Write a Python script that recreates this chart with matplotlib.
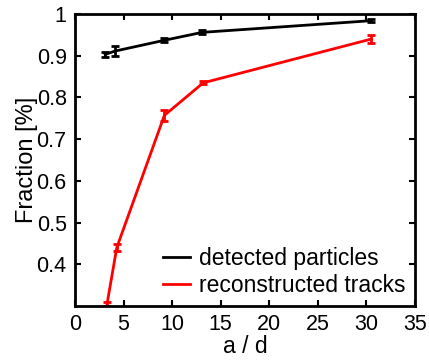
import matplotlib
matplotlib.use("Agg")
import matplotlib.pyplot as plt

plt.rcParams['font.family'] = ['Liberation Sans', 'DejaVu Sans']

x_det = [3.1, 4.1, 9.2, 13.1, 30.5]
y_det = [0.903, 0.911, 0.937, 0.956, 0.984]
e_det = [0.005, 0.012, 0.005, 0.005, 0.003]

x_rec = [3.3, 4.3, 9.2, 13.2, 30.5]
y_rec = [0.305, 0.44, 0.757, 0.835, 0.94]
e_rec = [0.005, 0.008, 0.013, 0.004, 0.009]

xticks = [0, 5, 10, 15, 20, 25, 30, 35]
yticks = [0.4, 0.5, 0.6, 0.7, 0.8, 0.9, 1.0]
yticklabels = ['0.4', '0.5', '0.6', '0.7', '0.8', '0.9', '1']

fig = plt.figure(figsize=(4.29, 3.62), dpi=100)
ax = fig.add_axes([75/429, 1-306/362, 340/429, 292/362])

ax.errorbar(x_det, y_det, yerr=e_det, color='black', lw=2, capsize=3, capthick=2,
            elinewidth=2, label='detected particles')
ax.errorbar(x_rec, y_rec, yerr=e_rec, color='#ff0000', lw=2, capsize=3, capthick=2,
            elinewidth=2, label='reconstructed tracks')

ax.set_xlim(0, 35)
ax.set_ylim(0.3, 1.0)
ax.set_xticks(xticks)
ax.set_yticks(yticks)
ax.set_yticklabels(yticklabels)
ax.tick_params(direction='in', top=True, right=True, labelsize=15.5, width=1.5, length=4, pad=6)
for s in ax.spines.values():
    s.set_linewidth(2)
ax.set_xlabel('a / d', fontsize=16.5, labelpad=0)
ax.set_ylabel('Fraction [%]', fontsize=17, labelpad=-1)

handles, labels = ax.get_legend_handles_labels()
handles = [h[0] for h in handles]
ax.legend(handles, labels, loc='lower right', frameon=False, fontsize=16.5,
          handlelength=1.2, handletextpad=0.4, labelspacing=0.15, borderaxespad=0.0)

fig.savefig('out.png', dpi=100)
